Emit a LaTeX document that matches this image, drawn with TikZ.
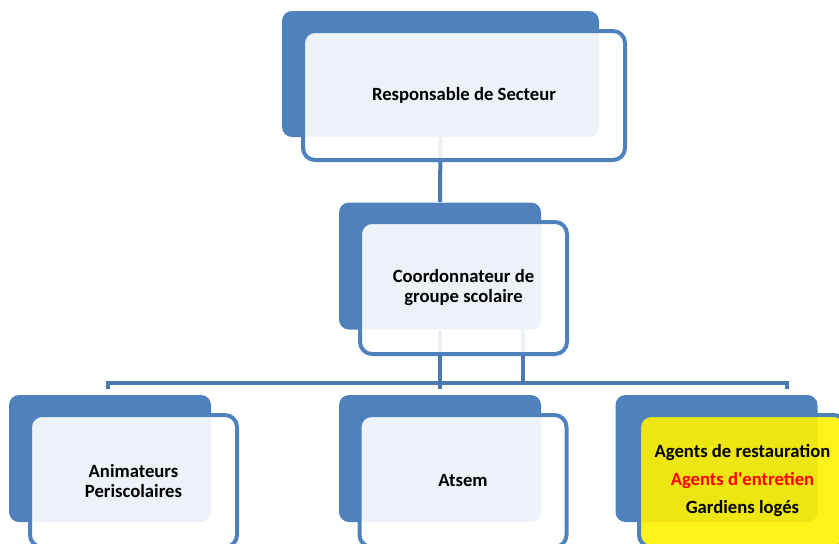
\documentclass[tikz,border=0pt]{standalone}
\usepackage{fontspec}
\setmainfont{Carlito}
\definecolor{boxblue}{HTML}{4F81BD}
\definecolor{linkblue}{HTML}{4A78B0}
\tikzset{
  backbox/.style={fill=boxblue, rounded corners=7.5pt, inner sep=0pt,
    minimum width=151.5pt, minimum height=95.25pt},
  frontbox/.style={draw=boxblue, line width=3pt, fill=white, fill opacity=0.9,
    text opacity=1, rounded corners=9pt, inner sep=0pt, align=center,
    minimum width=155.25pt, minimum height=99pt,
    font=\fontsize{14}{15}\selectfont\bfseries},
  link/.style={draw=linkblue, line width=3pt}
}
\begin{document}
\begin{tikzpicture}[x=0.75pt, y=-0.75pt]
    % 1. Page frame
    \useasboundingbox (0,0) rectangle (839,543);
    \clip (0,0) rectangle (839,543);

    % 2. Back boxes
    \node[backbox, minimum width=237.75pt, minimum height=94.5pt] (chefback) at (440.5,74) {};
    \node[backbox] (coordback) at (440,266) {};
    \node[backbox] (animback) at (110,458.5) {};
    \node[backbox] (atsemback) at (440,458.5) {};
    \node[backbox] (agentsback) at (716.5,458.5) {};

    % 3. Connectors
    \coordinate (stubs) at (0,389);
    \coordinate (busL) at (108,383);
    \coordinate (busR) at (787,383);
    \coordinate (sidelink) at (523,0);
    \draw[link] (chefback.south) -- (coordback.north);
    \draw[link] (busL |- stubs) -- (busL) -- (busR) -- (busR |- stubs);
    \draw[link] (coordback.south) -- (coordback.south |- stubs);
    \draw[link] (sidelink |- coordback.south) -- (sidelink |- busL);

    % 4. Front boxes with the texts
    \node[frontbox, minimum width=241.5pt, minimum height=96.75pt] (chef) at (464,95.5)
        {Responsable de Secteur};
    \node[frontbox] (coord) at (463.5,288) {Coordonnateur de\\groupe scolaire};
    \node[frontbox] (anim) at (133.5,481) {Animateurs\\Periscolaires};
    \node[frontbox] (atsem) at (463,481) {Atsem};
    \node[frontbox, fill=yellow] (agents) at (742.5,481)
        {Agents de restauration\\[6pt]\textcolor{red}{Agents d\textquotesingle entretien}\\[6pt]Gardiens logés};
\end{tikzpicture}
\end{document}
